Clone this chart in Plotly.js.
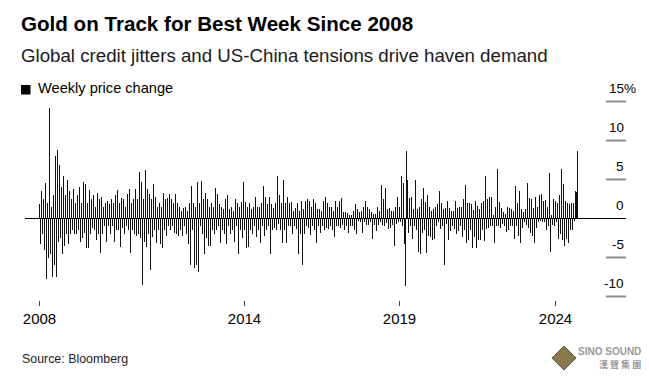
<!DOCTYPE html>
<html><head><meta charset="utf-8">
<script src="https://cdn.plot.ly/plotly-3.0.1.min.js"></script>
<style>html,body{margin:0;padding:0;background:#fff;}#chart{width:649px;height:379px;}</style>
</head><body><div id="chart"></div>
<script>
// Weekly gold price change (%), in chronological order
const weeklyChange = [
1.8,-3.3, 3.5,-2.0, 2.5,-4.0, 4.6,-7.8, 2.0,-5.0, 14.2,-4.6, 1.5,-7.5, 3.0,-6.0, 8.0,-7.5, 8.8,-3.0,
6.8,-2.5, 4.0,-4.5, 5.4,-3.5, 3.0,-2.0, 5.0,-3.3, 3.5,-2.0, 2.5,-1.5, 3.8,-2.0, 2.0,-2.0, 3.0,-1.5,
4.0,-3.0, 2.0,-2.5, 4.7,-1.8, 4.4,-3.8, 2.0,-3.8, 3.6,-2.0, 2.5,-1.2, 3.0,-1.5, 1.5,-2.8, 3.3,-2.0,
2.5,-4.4, 2.8,-2.0, 1.5,-1.0, 2.0,-3.0, 2.2,-1.0, 1.8,-2.0, 2.5,-1.0, 2.0,-3.0, 3.0,-1.5,
3.7,-1.5, 2.0,-3.6, 2.6,-1.2, 2.5,-2.0, 1.5,-1.0, 3.2,-1.5, 3.8,-4.4, 2.0,-1.5, 2.5,-2.0, 3.8,-2.3,
2.5,-2.0, 6.0,-2.5, 4.7,-8.5, 2.5,-3.0, 6.2,-3.6, 3.8,-2.0, 3.2,-6.6, 2.5,-2.4, 4.4,-1.5, 2.8,-3.2,
1.5,-1.5, 2.0,-3.3, 1.5,-3.8, 3.3,-1.5, 2.5,-2.2, 2.6,-1.0, 3.2,-1.5, 2.5,-1.0, 2.0,-1.8, 3.2,-2.0,
2.0,-2.3, 1.5,-1.5, 1.0,-2.2, 1.3,-1.0, 1.5,-2.0, 1.0,-3.3, 2.0,-6.0, 4.2,-1.5, 2.0,-6.4, 1.5,-6.0,
4.7,-6.8, 2.0,-1.0, 4.8,-2.0, 2.5,-4.6, 3.3,-2.5, 2.5,-3.5, 1.5,-3.5, 2.0,-1.5, 1.5,-2.0, 3.9,-1.5,
3.2,-1.0, 1.8,-3.2, 1.5,-1.5, 1.2,-2.0, 2.5,-3.3, 3.0,-1.0, 1.2,-2.0, 1.5,-1.5, 1.0,-3.0, 2.5,-1.0,
2.0,-4.6, 1.5,-1.5, 2.1,-2.5, 4.7,-1.5, 2.1,-3.8, 1.5,-3.6, 2.0,-1.5, 1.2,-2.0, 1.5,-1.0, 2.7,-2.4,
1.5,-1.5, 1.5,-3.1, 2.0,-1.0, 4.2,-2.2, 2.8,-1.5, 1.8,-1.0, 2.8,-4.6, 1.8,-1.5, 1.3,-1.2, 2.0,-1.5,
5.4,-0.7, 3.0,-1.5, 2.0,-3.1, 5.0,-1.5, 2.0,-3.2, 2.7,-1.0, 2.0,-1.0, 2.1,-2.0, 1.0,-1.0, 1.3,-1.3,
2.0,-4.5, 1.0,-2.0, 2.3,-6.0, 1.2,-2.0, 2.2,-1.0, 2.5,-1.2, 2.3,-2.1, 1.5,-1.0, 2.5,-1.5, 2.0,-3.1,
1.2,-1.0, 1.2,-1.8, 1.0,-1.0, 2.2,-1.5, 2.7,-1.2, 2.0,-1.3, 1.5,-1.0, 1.5,-1.5, 1.0,-2.4, 2.2,-1.0,
1.5,-1.0, 2.2,-1.2, 2.6,-0.8, 0.8,-1.5, 0.8,-1.0, 0.7,-1.8, 0.5,-1.0, 0.5,-1.0, 1.0,-1.5, 1.8,-2.0,
1.2,-0.3, 0.8,-0.5, 1.0,-1.9, 1.5,-0.5, 2.3,-0.8, 1.5,-0.8, 1.2,-0.5, 0.8,-2.6, 0.6,-0.8, 0.6,-1.6,
1.5,-0.8, 1.0,-0.5, 4.3,-0.8, 2.5,-1.0, 3.9,-0.6, 1.2,-1.3, 1.3,-1.2, 1.0,-0.8, 1.0,-3.5, 1.5,-0.7,
2.7,-0.5, 1.5,-0.5, 5.5,-1.0, 4.5,-3.3, -8.6,8.7, 4.9,-1.8, 2.6,-1.0, 2.8,-2.6, 1.2,-1.0, 5.0,-1.5,
1.2,-4.3, 1.5,-4.6, 2.5,-1.8, 3.9,-1.5, 2.1,-4.4, 3.0,-2.3, 1.5,-2.4, 1.0,-2.7, 1.2,-2.6, 1.5,-1.0,
1.9,-0.4, 3.5,-1.4, 2.0,-1.0, 1.2,-6.0, 1.3,-0.7, 2.3,-2.8, 1.4,-1.6, 1.0,-1.0, 1.0,-1.3, 2.3,-2.0,
1.3,-1.6, 1.5,-1.0, 1.5,-2.4, 2.5,-1.5, 4.3,-3.2, 2.0,-2.7, 2.0,-1.5, 1.9,-3.8, 1.1,-2.4, 2.3,-3.8,
1.6,-2.8, 1.2,-2.8, 2.0,-1.5, 2.2,-2.9, 5.4,-1.3, 2.5,-1.2, 2.8,-1.0, 2.8,-1.0, 0.5,-3.2, 1.5,-1.0,
6.3,-1.0, 2.1,-1.2, 1.3,-0.7, 0.8,-1.0, 0.6,-1.7, 1.5,-1.5, 1.3,-1.0, 1.2,-1.0, 1.0,-2.6, 4.2,-1.0,
2.0,-2.3, 3.5,-3.2, 1.2,-1.2, 0.8,-0.5, 1.2,-0.8, 4.5,-1.2, 2.6,-1.8, 2.5,-2.3, 1.3,-3.1, 2.8,-1.2,
1.5,-0.5, 3.0,-0.3, 3.2,-0.5, 2.2,-0.5, 2.4,-1.5, 1.5,-1.0, 5.8,-4.3, 0.5,-0.8, 2.5,-1.0, 2.2,-0.5,
2.0,-2.6, 3.0,-2.0, 6.4,-2.8, 4.4,-3.5, 2.2,-2.6, 2.0,-3.2, 1.8,-1.5, 2.0,-1.5, 2.0,-0.3, 3.5,3.4,
8.7
];
// x tick labels and the bar index at which each appears
const tickWeeks = [0, 205, 360, 516];
const tickYears = ['2008', '2014', '2019', '2024'];
// y ticks
const yTicks = [-10, -5, 0, 5, 10, 15];
const yTickText = ['-10', '-5', '0', '5', '10', '15%'];

const W = 649, H = 379, L = 25, R = 626, T = 88, B = 300;
const FONT = '"Liberation Sans", Arial, sans-serif';
const px = x => (x - L) / (R - L);
const py = y => (B - y) / (B - T);
const idx = weeklyChange.map((_, i) => i);

const trace = {
  type: 'bar', x: idx, y: weeklyChange,
  marker: {color: '#111', line: {width: 0}},
  hoverinfo: 'skip'
};

const annotations = [
  {text: '<b>Gold on Track for Best Week Since 2008</b>', x: px(19), y: py(37), xanchor: 'left', yanchor: 'bottom',
   font: {size: 20.6, color: '#000', family: FONT}},
  {text: 'Global credit jitters and US-China tensions drive haven demand', x: px(19), y: py(68), xanchor: 'left', yanchor: 'bottom',
   font: {size: 18.7, color: '#1a1a1a', family: FONT}},
  {text: 'Weekly price change', x: px(36), y: py(98), xanchor: 'left', yanchor: 'bottom',
   font: {size: 14.6, color: '#000', family: FONT}},
  {text: 'Source: Bloomberg', x: px(20), y: py(359), xanchor: 'left', yanchor: 'middle',
   font: {size: 12.4, color: '#222', family: FONT}},
  {text: '<b>SINO SOUND</b>', x: px(643), y: py(351), xanchor: 'right', yanchor: 'middle',
   font: {size: 10, color: '#9a9a9a', family: FONT}},
  {text: '<b>漢 聲 集 團</b>', x: px(643), y: py(364), xanchor: 'right', yanchor: 'middle',
   font: {size: 9, color: '#9a9a9a', family: '"Noto Sans CJK TC", sans-serif'}}
].map(a => Object.assign({xref: 'paper', yref: 'paper', showarrow: false}, a));

yTicks.forEach((v, i) => {
  const t = yTickText[i];
  annotations.push({
    xref: 'paper', yref: 'y', x: 1, y: v, xanchor: 'right', yanchor: 'bottom',
    xshift: t.endsWith('%') ? 12 : 0, yshift: 4, showarrow: false, text: t,
    font: {size: 13.5, color: '#000', family: FONT}
  });
});

const shapes = [
  {type: 'rect', xref: 'paper', yref: 'paper', x0: px(21), x1: px(30.5), y0: py(94.5), y1: py(85),
   fillcolor: '#000', line: {width: 0}},
  // watermark diamond
  {type: 'path', xref: 'paper', yref: 'paper',
   path: `M ${px(564)} ${py(346)} L ${px(576)} ${py(358)} L ${px(564)} ${py(370)} L ${px(552)} ${py(358)} Z`,
   fillcolor: '#8a7a4a', line: {color: '#555', width: 1}}
];
yTicks.forEach(v => {
  if (v !== 0) shapes.push({type: 'line', xref: 'paper', yref: 'y', x0: px(606), x1: 1, y0: v, y1: v,
    line: {color: '#8c8c8c', width: 2}});
});

const layout = {
  width: W, height: H,
  margin: {l: L, r: W - R, t: T, b: H - B, pad: 0},
  paper_bgcolor: '#fff', plot_bgcolor: '#fff',
  showlegend: false, bargap: 0,
  font: {family: FONT, color: '#000'},
  xaxis: {
    range: [L - 39.5, R - 39.5], showgrid: false, zeroline: false, showline: false,
    tickmode: 'array', tickvals: tickWeeks, ticktext: tickYears,
    ticks: 'outside', ticklen: 5, tickwidth: 1, tickcolor: '#444',
    tickfont: {size: 15, color: '#000', family: FONT}, fixedrange: true
  },
  yaxis: {
    range: [-(B - 218.5) / 7.8, (218.5 - T) / 7.8], showgrid: false,
    zeroline: true, zerolinecolor: '#000', zerolinewidth: 1,
    showticklabels: false, ticks: '', showline: false, fixedrange: true
  },
  annotations: annotations,
  shapes: shapes
};

Plotly.newPlot('chart', [trace], layout, {displayModeBar: false, staticPlot: true});
</script>
</body></html>
